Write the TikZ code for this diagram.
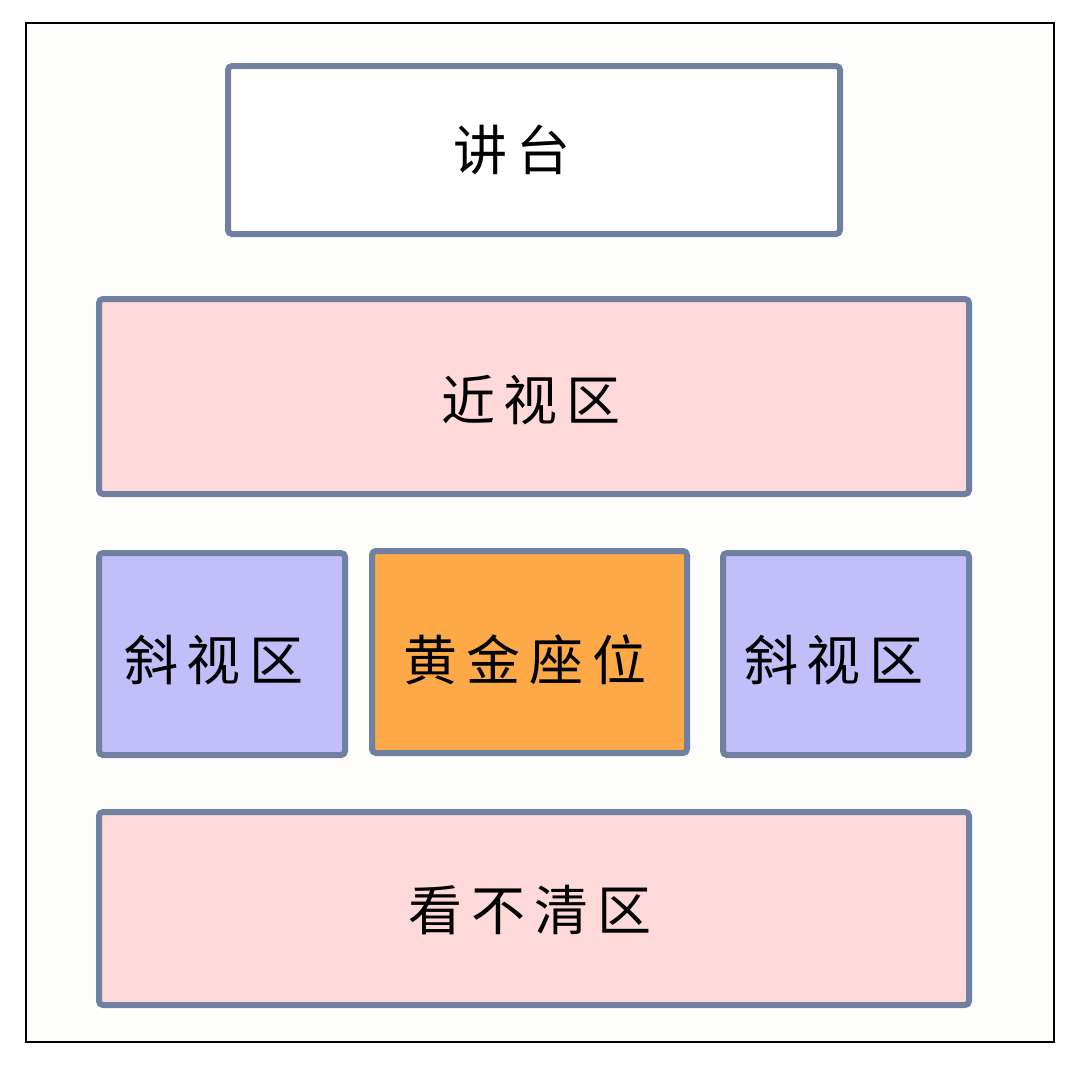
\documentclass[tikz,border=0pt]{standalone}
\usepackage{fontspec}
\newfontfamily\cjk{Noto Sans CJK SC}
\definecolor{bordc}{HTML}{7080A0}
\definecolor{pinkc}{HTML}{FDD9DA}
\definecolor{lavc}{HTML}{C1BEFA}
\definecolor{orc}{HTML}{FDA947}
\definecolor{bgc}{HTML}{FDFDFB}
\tikzset{
  zone/.style={draw=bordc, line width=6pt, rounded corners=4pt},
  lbl/.style={font=\cjk\fontsize{54}{60}\selectfont, text=black, inner sep=0pt},
}
\newcommand{\gp}{\hspace{9pt}}
\begin{document}
\begin{tikzpicture}[x=1pt,y=-1pt]
\useasboundingbox (0,0) rectangle (1080,1080);
\fill[white] (0,0) rectangle (1080,1080);
\draw[fill=bgc, line width=2pt] (26,23) rectangle (1054,1042);
\draw[zone, fill=white] (228,66) rectangle (840,234);
\node[lbl] (jt) at (512,150) {讲\gp 台};
\draw[zone, fill=pinkc] (99,299) rectangle (969,494);
\node[lbl] (jsq) at (531,400) {近\gp 视\gp 区};
\draw[zone, fill=lavc] (99,553) rectangle (345,755);
\node[lbl] (xs1) at (214,660) {斜\gp 视\gp 区};
\draw[zone, fill=orc] (372,551) rectangle (687,753);
\node[lbl] (hj) at (525,660) {黄\gp 金\gp 座\gp 位};
\draw[zone, fill=lavc] (723,553) rectangle (969,755);
\node[lbl] (xs2) at (834,660) {斜\gp 视\gp 区};
\draw[zone, fill=pinkc] (99,812) rectangle (969,1005);
\node[lbl] (kbq) at (530,910) {看\gp 不\gp 清\gp 区};
\end{tikzpicture}
\end{document}
